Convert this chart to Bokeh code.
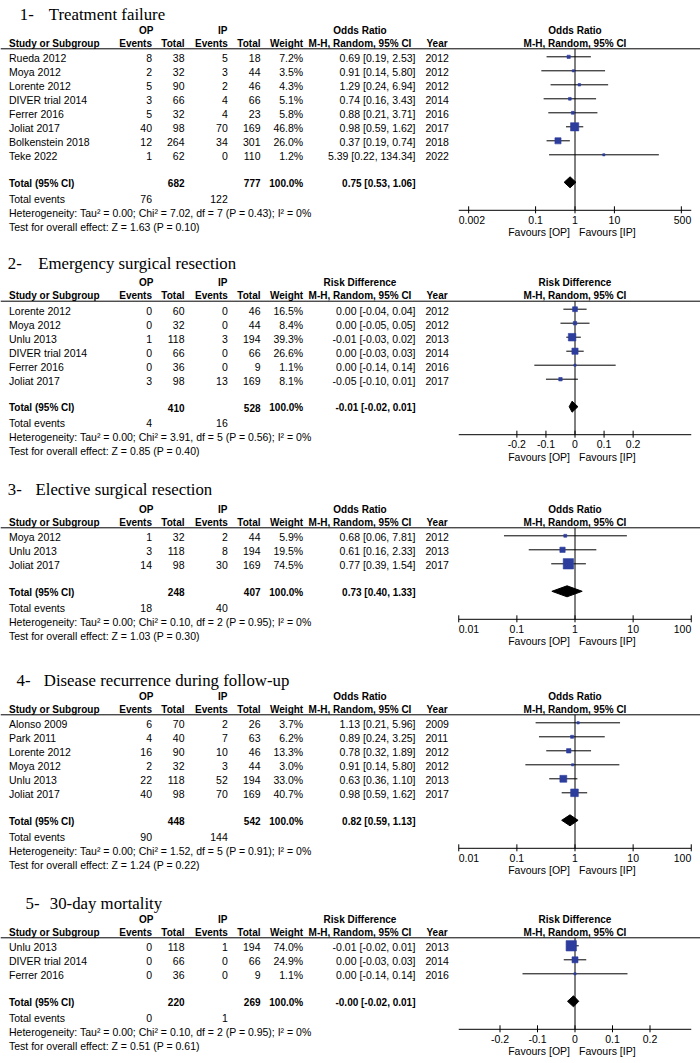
import math
from bokeh.plotting import figure
from bokeh.models import Range1d, LogScale, LinearScale, ColumnDataSource
from bokeh.core.properties import value
from bokeh.embed import file_html
from bokeh.resources import INLINE

# ---------------- data ----------------
# Panel 1 - Treatment failure (Odds Ratio)
p1_study = ["Rueda 2012", "Moya 2012", "Lorente 2012", "DIVER trial 2014", "Ferrer 2016",
            "Joliat 2017", "Bolkenstein 2018", "Teke 2022"]
p1_op_events = [8, 2, 5, 3, 5, 40, 12, 1]
p1_op_total = [38, 32, 90, 66, 32, 98, 264, 62]
p1_ip_events = [5, 3, 2, 4, 4, 70, 34, 0]
p1_ip_total = [18, 44, 46, 66, 23, 169, 301, 110]
p1_weight = [7.2, 3.5, 4.3, 5.1, 5.8, 46.8, 26.0, 1.2]
p1_est = [0.69, 0.91, 1.29, 0.74, 0.88, 0.98, 0.37, 5.39]
p1_lo = [0.19, 0.14, 0.24, 0.16, 0.21, 0.59, 0.19, 0.22]
p1_hi = [2.53, 5.80, 6.94, 3.43, 3.71, 1.62, 0.74, 134.34]
p1_year = [2012, 2012, 2012, 2014, 2016, 2017, 2018, 2022]
p1_total = [682, 777]
p1_total_events = [76, 122]
p1_pooled = [0.75, 0.53, 1.06]
p1_het = "Heterogeneity: Tau\u00b2 = 0.00; Chi\u00b2 = 7.02, df = 7 (P = 0.43); I\u00b2 = 0%"
p1_test = "Test for overall effect: Z = 1.63 (P = 0.10)"
p1_ticks = [0.002, 0.1, 1, 10, 500]
p1_tick_labels = ["0.002", "0.1", "1", "10", "500"]

# Panel 2 - Emergency surgical resection (Risk Difference)
p2_study = ["Lorente 2012", "Moya 2012", "Unlu 2013", "DIVER trial 2014", "Ferrer 2016", "Joliat 2017"]
p2_op_events = [0, 0, 1, 0, 0, 3]
p2_op_total = [60, 32, 118, 66, 36, 98]
p2_ip_events = [0, 0, 3, 0, 0, 13]
p2_ip_total = [46, 44, 194, 66, 9, 169]
p2_weight = [16.5, 8.4, 39.3, 26.6, 1.1, 8.1]
p2_est = [0.00, 0.00, -0.01, 0.00, 0.00, -0.05]
p2_lo = [-0.04, -0.05, -0.03, -0.03, -0.14, -0.10]
p2_hi = [0.04, 0.05, 0.02, 0.03, 0.14, 0.01]
p2_year = [2012, 2012, 2013, 2014, 2016, 2017]
p2_total = [410, 528]
p2_total_events = [4, 16]
p2_pooled = [-0.01, -0.02, 0.01]
p2_het = "Heterogeneity: Tau\u00b2 = 0.00; Chi\u00b2 = 3.91, df = 5 (P = 0.56); I\u00b2 = 0%"
p2_test = "Test for overall effect: Z = 0.85 (P = 0.40)"
p2_ticks = [-0.2, -0.1, 0, 0.1, 0.2]
p2_tick_labels = ["-0.2", "-0.1", "0", "0.1", "0.2"]

# Panel 3 - Elective surgical resection (Odds Ratio)
p3_study = ["Moya 2012", "Unlu 2013", "Joliat 2017"]
p3_op_events = [1, 3, 14]
p3_op_total = [32, 118, 98]
p3_ip_events = [2, 8, 30]
p3_ip_total = [44, 194, 169]
p3_weight = [5.9, 19.5, 74.5]
p3_est = [0.68, 0.61, 0.77]
p3_lo = [0.06, 0.16, 0.39]
p3_hi = [7.81, 2.33, 1.54]
p3_year = [2012, 2013, 2017]
p3_total = [248, 407]
p3_total_events = [18, 40]
p3_pooled = [0.73, 0.40, 1.33]
p3_het = "Heterogeneity: Tau\u00b2 = 0.00; Chi\u00b2 = 0.10, df = 2 (P = 0.95); I\u00b2 = 0%"
p3_test = "Test for overall effect: Z = 1.03 (P = 0.30)"
p3_ticks = [0.01, 0.1, 1, 10, 100]
p3_tick_labels = ["0.01", "0.1", "1", "10", "100"]

# Panel 4 - Disease recurrence during follow-up (Odds Ratio)
p4_study = ["Alonso 2009", "Park 2011", "Lorente 2012", "Moya 2012", "Unlu 2013", "Joliat 2017"]
p4_op_events = [6, 4, 16, 2, 22, 40]
p4_op_total = [70, 40, 90, 32, 118, 98]
p4_ip_events = [2, 7, 10, 3, 52, 70]
p4_ip_total = [26, 63, 46, 44, 194, 169]
p4_weight = [3.7, 6.2, 13.3, 3.0, 33.0, 40.7]
p4_est = [1.13, 0.89, 0.78, 0.91, 0.63, 0.98]
p4_lo = [0.21, 0.24, 0.32, 0.14, 0.36, 0.59]
p4_hi = [5.96, 3.25, 1.89, 5.80, 1.10, 1.62]
p4_year = [2009, 2011, 2012, 2012, 2013, 2017]
p4_total = [448, 542]
p4_total_events = [90, 144]
p4_pooled = [0.82, 0.59, 1.13]
p4_het = "Heterogeneity: Tau\u00b2 = 0.00; Chi\u00b2 = 1.52, df = 5 (P = 0.91); I\u00b2 = 0%"
p4_test = "Test for overall effect: Z = 1.24 (P = 0.22)"
p4_ticks = [0.01, 0.1, 1, 10, 100]
p4_tick_labels = ["0.01", "0.1", "1", "10", "100"]

# Panel 5 - 30-day mortality (Risk Difference)
p5_study = ["Unlu 2013", "DIVER trial 2014", "Ferrer 2016"]
p5_op_events = [0, 0, 0]
p5_op_total = [118, 66, 36]
p5_ip_events = [1, 0, 0]
p5_ip_total = [194, 66, 9]
p5_weight = [74.0, 24.9, 1.1]
p5_est = [-0.01, 0.00, 0.00]
p5_lo = [-0.02, -0.03, -0.14]
p5_hi = [0.01, 0.03, 0.14]
p5_year = [2013, 2014, 2016]
p5_total = [220, 269]
p5_total_events = [0, 1]
p5_pooled = [-0.004, -0.02, 0.01]
p5_het = "Heterogeneity: Tau\u00b2 = 0.00; Chi\u00b2 = 0.10, df = 2 (P = 0.95); I\u00b2 = 0%"
p5_test = "Test for overall effect: Z = 0.51 (P = 0.61)"
p5_ticks = [-0.2, -0.1, 0, 0.1, 0.2]
p5_tick_labels = ["-0.2", "-0.1", "0", "0.1", "0.2"]

titles = ["Treatment failure", "Emergency surgical resection", "Elective surgical resection",
          "Disease recurrence during follow-up", "30-day mortality"]
title_nums = ["1-", "2-", "3-", "4-", "5-"]
measures = ["Odds Ratio", "Risk Difference", "Odds Ratio", "Odds Ratio", "Risk Difference"]
group_labels = ["OP", "IP"]
favours = ["Favours [OP]", "Favours [IP]"]

# ---------------- layout (pixels) ----------------
W, H = 700, 1063
SANS = value("Liberation Sans")
SERIF = value("Liberation Serif")
BLUE = "#2C3D9D"
FS = "10.5px"
FSB = "10px"

X_STUDY, X_OPE, X_OPT, X_IPE, X_IPT, X_W = 8.5, 151.5, 184, 227.3, 260, 302.7
X_EST, X_ESTC, X_YEAR, X_OPH, X_IPH = 415, 359.5, 425, 145.7, 222.3
X_NULL = 574.5          # pixel of the null value
HALF_AXIS = 116.25      # half length of forest axis in pixels

layout = [
    dict(line_y=48.3, t_off=-34.3, tx=(19.3, 48.3), log=True, half=2.95),
    dict(line_y=300.7, t_off=-37.4, tx=(7.3, 37.7), log=False, half=0.40),
    dict(line_y=527.3, t_off=-38.0, tx=(7.3, 35.0), log=True, half=2.0),
    dict(line_y=714.3, t_off=-34.5, tx=(16.0, 43.3), log=True, half=2.0),
    dict(line_y=937.3, t_off=-34.3, tx=(25.0, 49.3), log=False, half=0.31),
]

data = []
for i in range(1, 6):
    g = globals()
    data.append({k: g["p%d_%s" % (i, k)] for k in
                 ["study", "op_events", "op_total", "ip_events", "ip_total", "weight", "est", "lo",
                  "hi", "year", "total", "total_events", "pooled", "het", "test", "ticks", "tick_labels"]})

p = figure(width=W, height=H, x_range=Range1d(0, W), y_range=Range1d(H, 0),
           x_axis_location=None, y_axis_location=None, toolbar_location=None,
           output_backend="svg", min_border=0, min_border_left=0, min_border_right=0,
           min_border_top=0, min_border_bottom=0, outline_line_color=None)
p.grid.visible = False

# one x-range / scale per forest panel so that values map through Bokeh scales
for i, L in enumerate(layout):
    k = HALF_AXIS / L["half"]
    L["k"] = k
    if L["log"]:
        p.extra_x_ranges["f%d" % i] = Range1d(10 ** (-X_NULL / k), 10 ** ((W - X_NULL) / k))
        p.extra_x_scales["f%d" % i] = LogScale()
    else:
        p.extra_x_ranges["f%d" % i] = Range1d(-X_NULL / k, (W - X_NULL) / k)
        p.extra_x_scales["f%d" % i] = LinearScale()


def text(xs, ys, ts, align="left", bold=False, size=FS, font=SANS, rn="default",
         baseline="middle", x_offset=0):
    src = ColumnDataSource(dict(x=list(xs), y=list(ys), t=[str(s) for s in ts]))
    p.text("x", "y", text="t", source=src, text_align=align, text_baseline=baseline,
           text_font=font, text_font_size=size, text_font_style="bold" if bold else "normal",
           text_color="#000000", x_range_name=rn, x_offset=x_offset)


def fmt(e, l, h):
    return "%.2f [%.2f, %.2f]" % (e, l, h)


for i, (L, D) in enumerate(zip(layout, data)):
    rn = "f%d" % i
    ly = L["line_y"]
    n = len(D["study"])
    null = 1 if L["log"] else 0
    if L["log"]:
        amin, amax = 10 ** -L["half"], 10 ** L["half"]
    else:
        amin, amax = -L["half"], L["half"]

    rows = [ly + 9.5 + 14 * j for j in range(n)]
    y_tot = rows[-1] + 27
    y_te = y_tot + 15.5
    y_het = y_te + 13.7
    y_test = y_het + 14
    y_axis = y_tot + 27
    y_op = ly - 18.5
    y_hd = ly - 5.5

    # title
    text([L["tx"][0]], [ly + L["t_off"]], [title_nums[i]], font=SERIF, size="16.8px", baseline="alphabetic")
    text([L["tx"][1]], [ly + L["t_off"]], [titles[i]], font=SERIF, size="16.8px", baseline="alphabetic")

    # header
    text([X_OPH, X_IPH], [y_op, y_op], group_labels, align="center", bold=True, size=FSB)
    text([X_ESTC], [y_op], [measures[i]], align="center", bold=True, size=FSB)
    text([X_STUDY], [y_hd], ["Study or Subgroup"], bold=True, size=FSB)
    text([X_OPE, X_OPT, X_IPE, X_IPT, X_W], [y_hd] * 5,
         ["Events", "Total", "Events", "Total", "Weight"], align="right", bold=True, size=FSB)
    text([X_ESTC], [y_hd], ["M-H, Random, 95% CI"], align="center", bold=True, size=FSB)
    text([X_YEAR + 1], [y_hd], ["Year"], bold=True, size=FSB)
    text([null], [y_op], [measures[i]], align="center", bold=True, size=FSB, rn=rn)
    text([null], [y_hd], ["M-H, Random, 95% CI"], align="center", bold=True, size=FSB, rn=rn)
    p.segment(x0=[0], y0=[ly], x1=[W], y1=[ly], line_color="#000000", line_width=1)

    # study rows
    text([X_STUDY] * n, rows, D["study"])
    text([X_OPE] * n, rows, D["op_events"], align="right")
    text([X_OPT] * n, rows, D["op_total"], align="right")
    text([X_IPE] * n, rows, D["ip_events"], align="right")
    text([X_IPT] * n, rows, D["ip_total"], align="right")
    text([X_W] * n, rows, ["%.1f%%" % w for w in D["weight"]], align="right")
    text([X_EST] * n, rows, [fmt(e, l, h) for e, l, h in zip(D["est"], D["lo"], D["hi"])], align="right")
    text([X_YEAR] * n, rows, D["year"])

    # totals
    text([X_STUDY], [y_tot], ["Total (95% CI)"], bold=True, size=FSB)
    text([X_OPT, X_IPT, X_W], [y_tot] * 3, [D["total"][0], D["total"][1], "100.0%"], align="right", bold=True, size=FSB)
    text([X_EST], [y_tot], [fmt(*D["pooled"])], align="right", bold=True, size=FSB)
    text([X_STUDY], [y_te], ["Total events"])
    text([X_OPE, X_IPE], [y_te, y_te], D["total_events"], align="right")
    text([X_STUDY], [y_het], [D["het"]])
    text([X_STUDY], [y_test], [D["test"]])

    # forest plot
    my = [r - 1.5 for r in rows]
    p.segment(x0=[null], y0=[ly], x1=[null], y1=[y_axis], line_color="#000000", line_width=1, x_range_name=rn)
    p.segment(x0=D["lo"], y0=my, x1=D["hi"], y1=my, line_color="#000000", line_width=1, x_range_name=rn)
    sizes = [max(2.2, 1.2 * math.sqrt(w)) for w in D["weight"]]
    p.scatter(x=D["est"], y=my, size=sizes, marker="square", fill_color=BLUE, line_color=BLUE,
              line_width=0.6, x_range_name=rn)
    e, lo, hi = D["pooled"]
    dy = y_tot - 1
    p.patches(xs=[[lo, e, hi, e]], ys=[[dy, dy - 5.5, dy, dy + 5.5]], fill_color="#000000",
              line_color="#000000", line_width=1, x_range_name=rn)

    # axis
    p.segment(x0=[amin], y0=[y_axis], x1=[amax], y1=[y_axis], line_color="#000000", line_width=1, x_range_name=rn)
    tk = D["ticks"]
    p.segment(x0=tk, y0=[y_axis - 4] * len(tk), x1=tk, y1=[y_axis + 3] * len(tk),
              line_color="#000000", line_width=1, x_range_name=rn)
    f = (lambda v: math.log10(v)) if L["log"] else (lambda v: v)
    lx, la = [], []
    for t in tk:
        if L["k"] * (f(t) - f(amin)) < 12:
            lx.append(amin); la.append("left")
        elif L["k"] * (f(amax) - f(t)) < 12:
            lx.append(amax); la.append("right")
        else:
            lx.append(t); la.append("center")
    for x, a, lab in zip(lx, la, D["tick_labels"]):
        text([x], [y_axis + 9.5], [lab], align=a, rn=rn)
    text([null], [y_axis + 22], [favours[0]], align="right", rn=rn, x_offset=-5)
    text([null], [y_axis + 22], [favours[1]], align="left", rn=rn, x_offset=4)

open("out.html", "w").write(file_html(p, INLINE))
